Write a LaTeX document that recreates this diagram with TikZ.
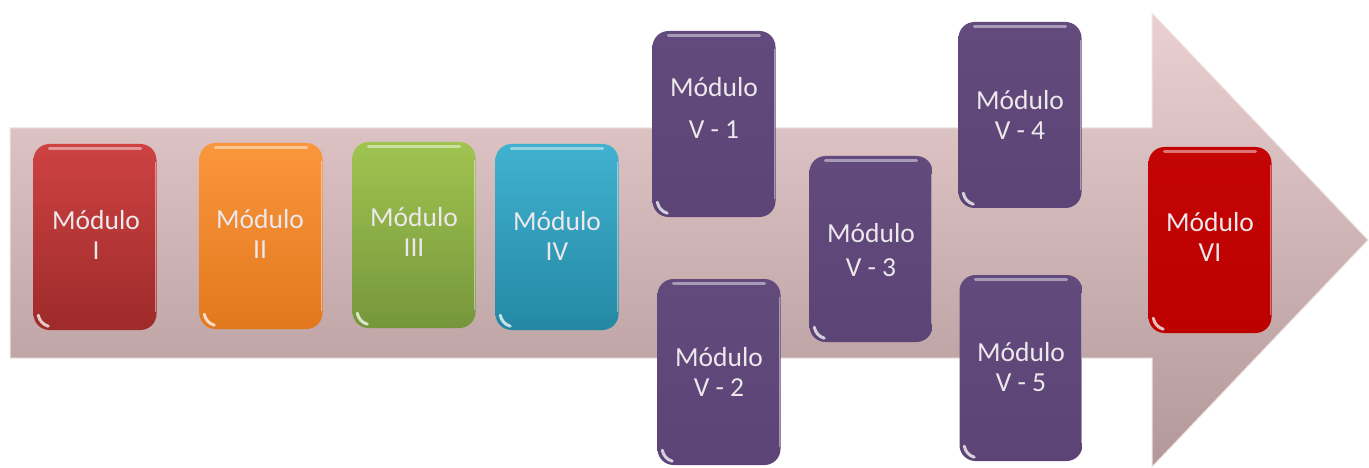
\documentclass[tikz,border=0pt]{standalone}
\usepackage{fontspec}
\setmainfont{Carlito}
\definecolor{arrT}{RGB}{234,208,208}
\definecolor{arrB}{RGB}{178,152,152}
\definecolor{arrE}{RGB}{242,228,228}
\definecolor{m1T}{RGB}{206,66,66}
\definecolor{m1B}{RGB}{158,42,42}
\definecolor{m2T}{RGB}{250,150,60}
\definecolor{m2B}{RGB}{226,120,30}
\definecolor{m3T}{RGB}{160,196,80}
\definecolor{m3B}{RGB}{118,150,60}
\definecolor{m4T}{RGB}{64,178,208}
\definecolor{m4B}{RGB}{36,136,164}
\definecolor{m5T}{RGB}{98,74,124}
\definecolor{m5B}{RGB}{92,68,118}
\definecolor{m6T}{RGB}{196,4,4}
\definecolor{m6B}{RGB}{188,0,0}
\definecolor{txt}{RGB}{236,232,236}
\begin{document}
\begin{tikzpicture}[x=1pt,y=-1pt,
  modbox/.style 2 args={rounded corners=16pt, top color=#1, bottom color=#2, draw=none,
     minimum width=123pt, minimum height=186pt, inner sep=0pt},
  modtext/.style={text=txt, font=\fontsize{27.5}{30}\selectfont, align=center, inner sep=0pt},
  gloss/.style={white, line width=3pt, opacity=0.45, line cap=round}]
\useasboundingbox (0,0) rectangle (1369,468);
% big arrow
\shade[top color=arrT, bottom color=arrB, draw=arrE, line width=1pt]
  (10,128) -- (1152,128) -- (1152,13) -- (1368,240) -- (1152,467) -- (1152,358) -- (10,358) -- cycle;
% boxes
\node[modbox={m1T}{m1B}] (b1) at (95,237) {};
\node[modbox={m2T}{m2B}] (b2) at (261,236) {};
\node[modbox={m3T}{m3B}] (b3) at (414,235) {};
\node[modbox={m4T}{m4B}] (b4) at (557,237) {};
\node[modbox={m5T}{m5B}] (b51) at (714,124) {};
\node[modbox={m5T}{m5B}] (b52) at (719,372) {};
\node[modbox={m5T}{m5B}] (b53) at (871,249) {};
\node[modbox={m5T}{m5B}] (b54) at (1020,115) {};
\node[modbox={m5T}{m5B}] (b55) at (1021,368) {};
\node[modbox={m6T}{m6B}] (b6) at (1210,240) {};
% gloss
\foreach \b in {b1,b2,b3,b4,b51,b52,b53,b54,b55,b6}{
  \draw[gloss] ([xshift=16pt,yshift=-5pt]\b.north west) -- ([xshift=-16pt,yshift=-5pt]\b.north east);
  \draw[gloss, opacity=0.75] ([xshift=5pt,yshift=15pt]\b.south west) to[bend right=30] ([xshift=15pt,yshift=4pt]\b.south west);
  \draw[white, opacity=0.45, line width=1.5pt] ([xshift=-1pt,yshift=-18pt]\b.north east) -- ([xshift=-1pt,yshift=18pt]\b.south east);
}
% texts
\node[modtext] (t1) at (96,235) {Módulo\\I};
\node[modtext] (t2) at (260,234) {Módulo\\II};
\node[modtext] (t3) at (414,232) {Módulo\\III};
\node[modtext] (t4) at (557,236) {Módulo\\IV};
\node[modtext] (t51) at (714,108) {Módulo\\[12pt]V - 1};
\node[modtext] (t52) at (719,372) {Módulo\\V - 2};
\node[modtext] (t53) at (871,250) {Módulo\\[4pt]V - 3};
\node[modtext] (t54) at (1020,115) {Módulo\\V - 4};
\node[modtext] (t55) at (1021,367) {Módulo\\V - 5};
\node[modtext] (t6) at (1210,237) {Módulo\\VI};
\end{tikzpicture}
\end{document}
